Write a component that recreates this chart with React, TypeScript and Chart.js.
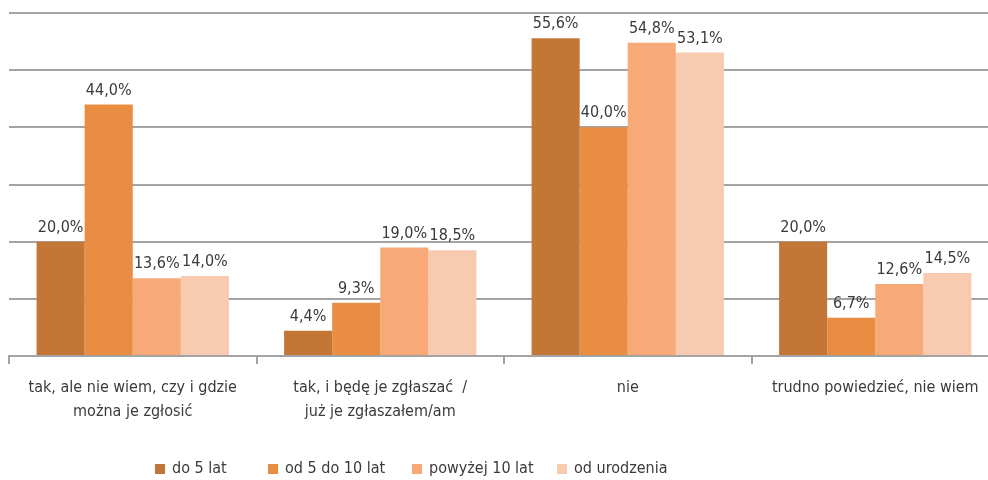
import React, { useEffect, useRef } from "react";
import { Chart, registerables } from "chart.js";

Chart.register(...registerables);

const categories: string[][] = [
  ["tak, ale nie wiem, czy i gdzie", "można je zgłosić"],
  ["tak, i będę je zgłaszać  /", "już je zgłaszałem/am"],
  ["nie"],
  ["trudno powiedzieć, nie wiem"],
];

const seriesNames = ["do 5 lat", "od 5 do 10 lat", "powyżej 10 lat", "od urodzenia"];
const do5lat = [20.0, 4.4, 55.6, 20.0];
const od5do10 = [44.0, 9.3, 40.0, 6.7];
const powyzej10 = [13.6, 19.0, 54.8, 12.6];
const odUrodzenia = [14.0, 18.5, 53.1, 14.5];
const seriesColors = ["#C47636", "#E88D41", "#F7AA78", "#F8CBB1"];

const FONT = "'DejaVu Sans Condensed', 'Liberation Sans Narrow', sans-serif";
const FONT_SIZE = 16;
const TEXT_COLOR = "#3a3a3a";
const GRID_COLOR = "#a3a3a3";
const LEGEND_X = [155, 268, 412, 557];
const LEGEND_Y = 469;

const fmt = (v: number) => v.toFixed(1).replace(".", ",") + "%";

const dataLabelPlugin = {
  id: "dataLabels",
  afterDatasetsDraw(chart: any) {
    const ctx = chart.ctx;
    ctx.save();
    ctx.font = `${FONT_SIZE}px ${FONT}`;
    ctx.fillStyle = TEXT_COLOR;
    ctx.textAlign = "center";
    ctx.textBaseline = "bottom";
    chart.data.datasets.forEach((ds: any, i: number) => {
      const meta = chart.getDatasetMeta(i);
      meta.data.forEach((el: any, j: number) => {
        ctx.fillText(fmt(ds.data[j]), el.x, el.y - 6);
      });
    });
    ctx.restore();
  },
};

const legendPlugin = {
  id: "customLegend",
  afterDraw(chart: any) {
    const ctx = chart.ctx;
    ctx.save();
    ctx.font = `${FONT_SIZE}px ${FONT}`;
    ctx.textBaseline = "middle";
    ctx.textAlign = "left";
    chart.data.datasets.forEach((ds: any, i: number) => {
      const x = LEGEND_X[i];
      ctx.fillStyle = ds.backgroundColor;
      ctx.fillRect(x, LEGEND_Y - 5, 10, 10);
      ctx.fillStyle = TEXT_COLOR;
      ctx.fillText(ds.label, x + 17, LEGEND_Y);
    });
    ctx.restore();
  },
};

export default function App() {
  const ref = useRef<HTMLCanvasElement | null>(null);
  useEffect(() => {
    if (!ref.current) return;
    const values = [do5lat, od5do10, powyzej10, odUrodzenia];
    const chart = new Chart(ref.current, {
      type: "bar",
      data: {
        labels: categories,
        datasets: seriesNames.map((name, i) => ({
          label: name,
          data: values[i],
          backgroundColor: seriesColors[i],
          borderWidth: 0,
          barPercentage: 1,
          categoryPercentage: 0.777,
        })),
      },
      options: {
        responsive: false,
        animation: false,
        devicePixelRatio: 1,
        layout: { padding: { left: 9, right: 1, top: 13, bottom: 0 } },
        plugins: {
          legend: { display: false },
          tooltip: { enabled: false },
        },
        scales: {
          x: {
            offset: true,
            grid: {
              display: true,
              offset: true,
              drawOnChartArea: false,
              drawTicks: true,
              tickLength: 8,
              color: GRID_COLOR,
              lineWidth: 2,
            },
            border: { display: true, color: GRID_COLOR, width: 2 },
            ticks: {
              color: TEXT_COLOR,
              font: { family: FONT, size: FONT_SIZE, lineHeight: 1.5 },
              padding: 12,
              maxRotation: 0,
              autoSkip: false,
            },
            afterFit(scale: any) {
              scale.height = 124;
            },
          },
          y: {
            min: 0,
            max: 60,
            ticks: { display: false, stepSize: 10 },
            grid: { color: GRID_COLOR, lineWidth: 2, drawTicks: false, tickLength: 0 },
            border: { display: false },
          },
        },
      },
      plugins: [dataLabelPlugin, legendPlugin],
    });
    return () => chart.destroy();
  }, []);
  return (
    <div style={{ position: "fixed", left: 0, top: 0, width: 988, height: 480, overflow: "hidden", background: "#fff" }}>
      <canvas ref={ref} width={1000} height={480} style={{ display: "block" }} />
    </div>
  );
}
